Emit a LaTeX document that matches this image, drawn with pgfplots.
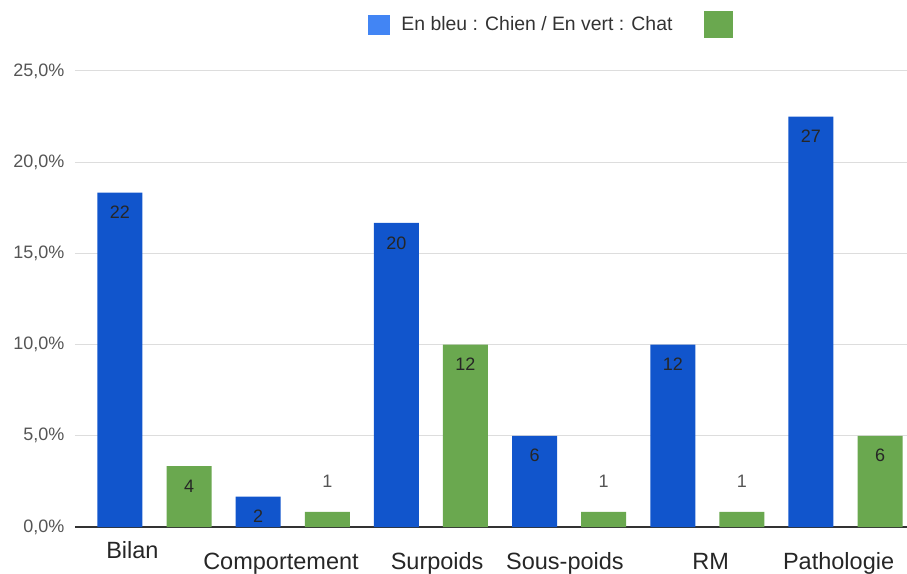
\documentclass[border=0pt]{standalone}
\usepackage{pgfplots}
\pgfplotsset{compat=1.18}
\usepackage{fontspec}
\setmainfont{Liberation Sans}
\definecolor{barblue}{HTML}{1155CC}
\definecolor{legblue}{HTML}{4285F4}
\definecolor{bargreen}{HTML}{6AA84F}
\definecolor{gridgray}{HTML}{DDDDDD}
\definecolor{ticktext}{HTML}{555555}
\definecolor{axisgray}{HTML}{333333}

\begin{document}
\begin{tikzpicture}
\begin{axis}[
  scale only axis, width=832pt, height=456pt,
  xmin=-0.651, xmax=11.39, ymin=0, ymax=25,
  axis line style={draw=none},
  major tick length=0pt,
  ytick={0,5,...,25},
  ymajorgrids, grid style={gridgray, line width=1pt},
  extra y ticks={0}, extra y tick labels={},
  extra y tick style={grid style={axisgray, line width=1.2pt}},
  /pgf/number format/assume math mode=true,
  yticklabel={\pgfmathprintnumber[fixed,fixed zerofill,precision=1,use comma]{\tick}\%},
  yticklabel style={font=\fontsize{18}{20}\selectfont, text=ticktext, xshift=-7pt},
  xtick={2.33,4.59,6.44,8.55,10.40},
  xticklabels={Comportement,Surpoids,Sous-poids,RM,Pathologie},
  xticklabel style={font=\fontsize{23.5}{26}\selectfont, text=black!85, anchor=base, yshift=-42pt},
  extra x ticks={0.18}, extra x tick labels={Bilan},
  extra x tick style={xticklabel style={yshift=11pt}},
  ybar, bar width=45pt,
  nodes near coords, point meta=explicit symbolic,
  every node near coord/.append style={font=\fontsize{18}{20}\selectfont, anchor=center},
  legend columns=2,
  legend style={at={(0.352,1.103)}, anchor=west, draw=none, fill=none,
    inner sep=0pt, column sep=12pt, font=\fontsize{19.4}{22}\selectfont,
    text=axisgray, nodes={inner sep=0pt}},
  legend cell align=left,
]
\addlegendimage{legend image code/.code={\fill[legblue] (0pt,-10pt) rectangle (21pt,9pt);}}
\addlegendentry{En bleu : Chien / En vert : Chat\rule{20pt}{0pt}}
\addlegendimage{legend image code/.code={\fill[bargreen] (0pt,-13pt) rectangle (28pt,13pt);}}
\addlegendentry{}

% Chien (bleu)
\addplot[fill=barblue, draw=none, bar shift=0pt, forget plot,
  every node near coord/.append style={text=black!85, yshift=-20pt}]
  coordinates {(0,18.333)[22] (2,1.667)[2] (4,16.667)[20] (6,5)[6] (8,10)[12] (10,22.5)[27]};

% Chat (vert)
\addplot[fill=bargreen, draw=none, bar shift=0pt, forget plot,
  every node near coord/.append style={text=black!85, yshift=-20pt}]
  coordinates {(1,3.333)[4] (5,10)[12] (11,5)[6]};
\addplot[fill=bargreen, draw=none, bar shift=0pt, forget plot,
  every node near coord/.append style={text=ticktext, yshift=30pt}]
  coordinates {(3,0.833)[1] (7,0.833)[1] (9,0.833)[1]};
\end{axis}
\pgfresetboundingbox
\useasboundingbox (-75pt,-46pt) rectangle (832pt,527pt);
\end{tikzpicture}
\end{document}
